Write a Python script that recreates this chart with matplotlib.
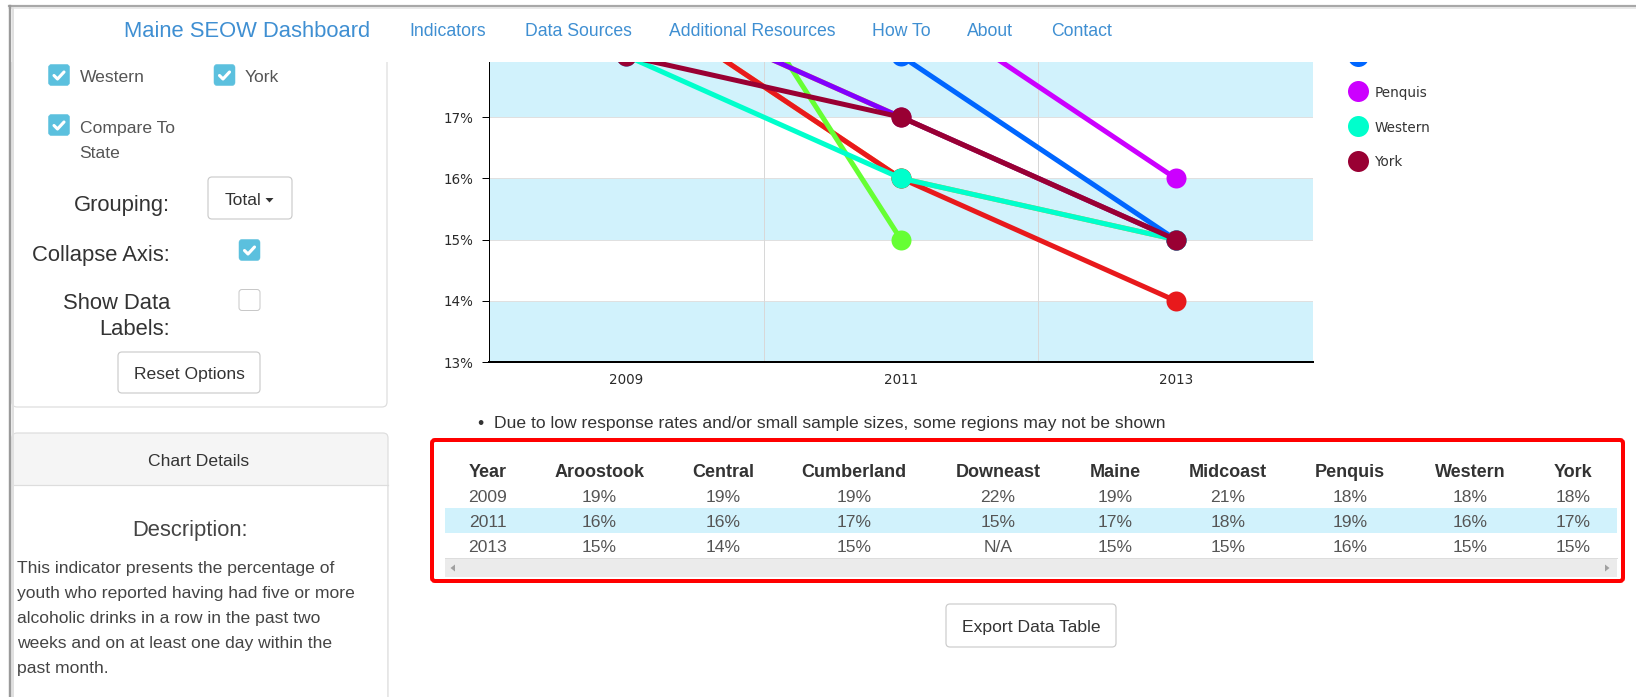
import numpy as np
import matplotlib
matplotlib.use("Agg")
import matplotlib.pyplot as plt
from matplotlib.patches import Rectangle, FancyBboxPatch, Polygon

plt.rcParams["font.family"] = ["Liberation Sans", "DejaVu Sans"]

years = ["2009", "2011", "2013"]
regions = ["Aroostook", "Central", "Cumberland", "Downeast", "Maine",
           "Midcoast", "Penquis", "Western", "York"]
aroostook = [19, 16, 15]
central = [19, 16, 14]
cumberland = [19, 17, 15]
downeast = [22, 15, None]
maine = [19, 17, 15]
midcoast = [21, 18, 15]
penquis = [18, 19, 16]
western = [18, 16, 15]
york = [18, 17, 15]
series = [aroostook, central, cumberland, downeast, maine,
          midcoast, penquis, western, york]
colors = ["#ff9933", "#e8191c", "#ffcc00", "#66ff33", "#8000ff",
          "#0066ff", "#cc00ff", "#00ffcc", "#990033"]
y_ticks = [13, 14, 15, 16, 17]

nav_items = ["Indicators", "Data Sources", "Additional Resources", "How To", "About", "Contact"]
description = ["This indicator presents the percentage of",
               "youth who reported having had five or more",
               "alcoholic drinks in a row in the past two",
               "weeks and on at least one day within the",
               "past month."]

# ---- page layout in pixels ----
W, H = 1636, 697
PX = 0.72  # points per pixel at dpi 100
DY = 1.8   # nudge so glyphs sit where the browser put them
BAND = "#d1f2fc"
LINK = "#3f8fd2"

fig = plt.figure(figsize=(W / 100, H / 100), dpi=100)


def px_axes(x0, y0, x1, y1):
    return fig.add_axes([x0 / W, 1 - y1 / H, (x1 - x0) / W, (y1 - y0) / H])


bg = px_axes(0, 0, W, H)
bg.set_xlim(0, W)
bg.set_ylim(H, 0)
bg.axis("off")


def rbox(x0, y0, x1, y1, fc, ec, lw=1, r=4, z=1):
    bg.add_patch(FancyBboxPatch((x0, y0), x1 - x0, y1 - y0,
                                boxstyle=f"round,pad=0,rounding_size={r}",
                                fc=fc, ec=ec, lw=lw * PX, zorder=z))


def txt(x, y, s, size, color, ha="left", weight="normal", z=4):
    bg.text(x, y + DY, s, fontsize=size * PX, color=color, ha=ha, va="center",
            fontweight=weight, zorder=z)


def checkbox(x0, y0, checked=True):
    if checked:
        rbox(x0, y0, x0 + 21, y0 + 21, "#5bc0de", "#5bc0de", lw=0.5, r=3, z=3)
        bg.plot([x0 + 5.5, x0 + 9, x0 + 15.5], [y0 + 11, y0 + 14.5, y0 + 7.5],
                color="white", lw=3.1 * PX, solid_capstyle="round",
                solid_joinstyle="round", zorder=4)
    else:
        rbox(x0, y0, x0 + 21, y0 + 21, "white", "#c8c8c8", lw=1, r=3, z=3)


# left options panel (top part hidden under navbar)
rbox(12, 30, 387, 407, "white", "#dddddd", lw=1.2, r=5, z=1)
# chart details panel
rbox(12, 433, 388, 730, "#f5f5f5", "#dddddd", lw=1.2, r=5, z=1)
bg.add_patch(Rectangle((13, 485), 374, 240, fc="white", ec="none", zorder=1.5))
bg.plot([12, 388], [485, 485], color="#dddddd", lw=1.2 * PX, zorder=2)

# navbar
bg.add_patch(Rectangle((10, 7), W, 55, fc="white", ec="none", zorder=2))
txt(247, 30, "Maine SEOW Dashboard", 22, LINK, ha="center")
for cx, item in zip([448, 578, 752, 901, 990, 1082], nav_items):
    txt(cx, 30, item, 17.6, LINK, ha="center")

# window frame
bg.plot([9, W], [6, 6], color="#a8a8a8", lw=2.2 * PX, zorder=6)
bg.plot([9, W], [8, 8], color="#e2e2e2", lw=1.5 * PX, zorder=6)
bg.plot([10, 10], [6, H], color="#9a9a9a", lw=2.4 * PX, zorder=6)
bg.plot([12.5, 12.5], [8, H], color="#e0e0e0", lw=2 * PX, zorder=6)

# options
checkbox(48.5, 64.5)
txt(79.5, 76, "Western", 17.5, "#555555")
checkbox(214, 64.5)
txt(245, 76, "York", 17.5, "#555555")
checkbox(48.5, 114.5)
txt(79.5, 127, "Compare To", 17.5, "#555555")
txt(79.5, 152, "State", 17.5, "#555555")

txt(170, 204, "Grouping:", 22, "#333333", ha="right")
rbox(208, 177, 292, 219, "white", "#cccccc", lw=1.2, r=4, z=3)
txt(225, 199, "Total", 17.5, "#333333")
bg.add_patch(Polygon([(265.5, 198), (273.5, 198), (269.5, 202.5)], closed=True,
                     fc="#333333", ec="none", zorder=4))

txt(170, 254, "Collapse Axis:", 22, "#333333", ha="right")
checkbox(239, 239.5)
txt(170, 302, "Show Data", 22, "#333333", ha="right")
txt(170, 328, "Labels:", 22, "#333333", ha="right")
checkbox(239, 289.5, checked=False)

rbox(118, 352, 260, 393, "white", "#cccccc", lw=1.2, r=4, z=3)
txt(189, 373, "Reset Options", 17.5, "#333333", ha="center")

# chart details
txt(199, 460, "Chart Details", 17.5, "#333333", ha="center")
txt(190, 529, "Description:", 22, "#444444", ha="center")
for i, line in enumerate(description):
    txt(17, 567 + 25 * i, line, 17.5, "#444444")

# ---- line chart ----
ax = px_axes(489, 62, 1313, 362)
xs = np.arange(len(years))
for lo in (13, 15, 17):
    ax.axhspan(lo, lo + 1, color=BAND, lw=0, zorder=0)
for b in (0.5, 1.5):
    ax.axvline(b, color="#d8d8d8", lw=1 * PX, zorder=0.6)
for i, (vals, c) in enumerate(zip(series, colors)):
    yv = np.array([np.nan if v is None else v for v in vals], dtype=float)
    ax.plot(xs, yv, color=c, lw=5 * PX, marker="o", ms=20 * PX, mew=0,
            solid_capstyle="round", zorder=3 + i)

ax.set_xlim(-0.5, 2.5)
ax.set_ylim(13, 17.9)
ax.set_yticks(y_ticks)
ax.set_yticklabels([f"{v}%" for v in y_ticks])
ax.set_xticks(xs)
ax.set_xticklabels(years)
ax.set_axisbelow(True)
ax.yaxis.grid(True, color="#e0e0e0", lw=1 * PX)
ax.tick_params(axis="y", length=7 * PX, width=1 * PX, color="black",
               pad=8.5 * PX, labelsize=13.5 * PX, labelcolor="#2a2a2a")
ax.tick_params(axis="x", length=0, pad=11 * PX, labelsize=13.5 * PX,
               labelcolor="#2a2a2a")
for lbl in ax.get_xticklabels() + ax.get_yticklabels():
    lbl.set_family("DejaVu Sans")
ax.spines["top"].set_visible(False)
ax.spines["right"].set_visible(False)
ax.spines["left"].set_linewidth(1 * PX)
ax.spines["bottom"].set_linewidth(2 * PX)

# legend (scrolled: only the last entries are visible)
lg = px_axes(1330, 62, 1500, 220)
lg.set_xlim(1330, 1500)
lg.set_ylim(220, 62)
lg.axis("off")
for i, (name, c) in enumerate(zip(regions, colors)):
    yy = 160.7 - (len(regions) - 1 - i) * 35
    lg.plot([1357.7], [yy], "o", color=c, ms=21 * PX, mew=0, clip_on=True)
    if yy > 75:  # entries scrolled above the navbar are hidden
        lg.text(1375, yy + DY, name, fontsize=13.5 * PX, color="#333333",
                va="center", family="DejaVu Sans")

# ---- note and data table ----
txt(480.5, 422, "\u2022", 17.5, "#333333", ha="center")
txt(494.5, 422, "Due to low response rates and/or small sample sizes, some regions may not be shown",
    17.5, "#333333")

col_x = [487.5, 599.5, 723, 854, 998, 1115, 1228, 1350, 1470, 1573]
row_y = [496, 521, 546]
bg.add_patch(Rectangle((445, 508), 1172, 24.7, fc=BAND, ec="none", zorder=2))
txt(col_x[0], 471, "Year", 18, "#333333", ha="center", weight="bold")
for cx, name in zip(col_x[1:], regions):
    txt(cx, 471, name, 18, "#333333", ha="center", weight="bold")
for r, yr in enumerate(years):
    txt(col_x[0], row_y[r], yr, 17.5, "#555555", ha="center")
    for cx, vals in zip(col_x[1:], series):
        v = vals[r]
        txt(cx, row_y[r], "N/A" if v is None else f"{v}%", 17.5, "#555555", ha="center")

bg.plot([445, 1617], [558, 558], color="#dddddd", lw=1 * PX, zorder=2)
bg.add_patch(Rectangle((445, 559), 1172, 18, fc="#ebebeb", ec="none", zorder=2))
bg.add_patch(Polygon([(450.5, 568), (455, 564.5), (455, 571.5)], closed=True,
                     fc="#a0a0a0", ec="none", zorder=3))
bg.add_patch(Polygon([(1609.5, 568), (1605, 564.5), (1605, 571.5)], closed=True,
                     fc="#a0a0a0", ec="none", zorder=3))
rbox(432, 440, 1623, 581, "none", "#ff0000", lw=4, r=3, z=5)

rbox(946, 604, 1116, 647, "white", "#cccccc", lw=1.2, r=4, z=3)
txt(1031, 626, "Export Data Table", 17.5, "#333333", ha="center")

fig.savefig("out.png", dpi=100, facecolor="white")
